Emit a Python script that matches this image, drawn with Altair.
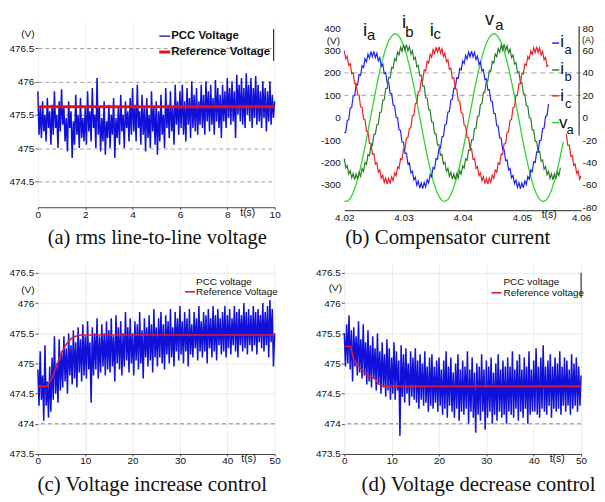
import altair as alt
import pandas as pd

SANS = "Liberation Sans"
TICKF = "Liberation Sans Narrow, Liberation Sans, sans-serif"
SERIF = "Liberation Serif"
NOISE_BLUE = "#1010d8"

# ---------------- panel (a): rms line-to-line voltage ----------------
a_pcc = [
    475.85, 475.2, 475.6, 475.15, 475.7, 475.25, 475.5, 475.1, 475.75, 475.3, 475.55, 475.05, 475.65, 475.2, 475.85, 475.3, 475.5, 475.0, 475.7, 475.25,
    475.88, 475.35, 475.6, 475.1, 475.45, 474.95, 475.7, 475.3, 475.55, 474.85, 475.4, 475.05, 475.8, 475.2, 475.5, 475.0, 475.75, 475.15, 475.45, 475.1,
    475.6, 475.05, 475.85, 475.25, 475.55, 475.1, 475.9, 475.3, 475.5, 475.0, 476.05, 475.2, 475.6, 474.95, 475.45, 475.1, 475.7, 474.9, 475.4, 475.15,
    475.65, 475.0, 475.5, 475.2, 475.75, 474.85, 475.45, 475.15, 475.6, 475.05, 475.8, 475.25, 475.5, 475.0, 475.7, 475.3, 475.55, 475.1, 475.75, 475.2,
    475.9, 475.25, 475.65, 475.1, 475.95, 475.3, 475.55, 475.05, 475.8, 475.2, 475.6, 474.95, 475.75, 475.15, 475.5, 475.0, 475.85, 475.25, 475.6, 475.05,
    475.7, 474.9, 475.55, 475.1, 475.8, 475.2, 475.5, 475.0, 475.9, 475.3, 475.65, 475.15, 475.85, 475.25, 475.6, 475.05, 475.95, 475.35, 475.7, 475.2,
    475.85, 475.3, 475.95, 475.2, 475.7, 475.1, 475.9, 475.35, 475.75, 475.15, 476.0, 475.3, 475.8, 475.25, 475.9, 475.2, 475.7, 475.35, 475.95, 475.3,
    475.8, 475.2, 476.0, 475.4, 475.85, 475.25, 475.95, 475.35, 475.75, 475.2, 476.02, 475.4, 475.9, 475.3, 475.8, 475.15, 475.95, 475.4, 475.85, 475.3,
    476.05, 475.45, 475.9, 475.35, 476.0, 475.4, 475.85, 475.15, 476.1, 475.5, 475.95, 475.4, 476.05, 475.35, 475.9, 475.3, 476.12, 475.5, 475.95, 475.4,
    476.05, 475.3, 475.9, 475.45, 476.08, 475.35, 475.95, 475.4, 475.85, 475.3, 476.0, 475.45, 475.9, 475.25, 475.85, 475.4, 476.0, 475.35, 475.8, 475.45,
    475.7,
]
a_step = 0.05
a_ref_t = [0, 10]
a_ref_v = [475.62, 475.62]
a_x_ticks = [0, 2, 4, 6, 8, 10]
a_y_ticks = [474.5, 475, 475.5, 476, 476.5]

# ---------------- panel (b): compensator current ----------------
b_step = 0.00025
b_ia = [
    -13.5, -13.0, -2.5, -1.9, 8.6, 9.1, 19.4, 19.6, 29.6, 29.3, 38.7, 37.7, 46.4, 44.7, 52.6, 49.9, 56.8, 53.2, 59.1, 54.5,
    59.3, 53.7, 57.5, 50.8, 53.6, 45.9, 47.8, 39.3, 40.3, 31.1, 31.5, 21.6, 21.5, 11.3, 10.8, 0.3, -0.2, -10.8, -11.3, -21.7,
    -21.9, -31.9, -31.7, -41.3, -40.4, -49.3, -47.7, -55.7, -53.2, -60.3, -56.8, -62.9, -58.4, -63.4, -57.9, -61.9, -55.4, -58.4, -50.8, -52.9,
    -44.5, -45.7, -36.5, -37.0, -27.3, -27.3, -17.0, -16.7, -6.2, -5.6, 4.9, 5.5, 15.9, 16.2, 26.3, 26.2, 35.8, 35.1, 44.0, 42.6,
    50.7, 48.4, 55.6, 52.4, 58.6, 54.3, 59.5, 54.2, 58.3, 52.0, 55.1, 47.7, 49.9, 41.7, 43.0, 34.0, 34.6, 24.9, 25.0, 14.8,
    14.5, 4.0, 3.5, -7.1, -7.6, -18.1, -18.4, -28.6, -28.6, -38.3, -37.7, -46.7, -45.4, -53.7, -51.6, -58.9, -55.8, -62.2, -58.1, -63.5,
    -58.3, -62.7, -56.5, -59.8, -52.6, -54.9, -46.8, -48.3, -39.3, -40.1, -30.5, -30.6, -20.5, -20.3, -9.8, -9.3, 1.2, 1.8, 12.3,
]
b_ib = [
    -36.5, -44.9, -42.8, -50.3, -47.3, -53.9, -49.9, -55.4, -50.4, -55.0, -48.9, -52.4, -45.4, -48.0, -40.1, -41.7, -33.0, -33.9, -24.5, -24.8,
    -14.9, -14.7, -6.2, -5.9, 4.6, 5.1, 15.5, 15.9, 26.1, 26.2, 36.1, 35.7, 45.0, 44.0, 52.7, 50.9, 58.7, 56.0, 62.9, 59.3,
    65.1, 60.5, 65.3, 59.7, 63.5, 56.8, 59.7, 52.1, 54.0, 45.5, 46.7, 37.5, 38.0, 28.2, 28.2, 18.0, 17.7, 7.2, 6.8, -3.7,
    -4.1, -14.4, -14.5, -24.5, -24.2, -33.6, -32.7, -41.5, -39.9, -47.8, -45.3, -52.3, -48.9, -54.9, -50.4, -55.4, -50.0, -53.9, -47.4, -50.4,
    -43.0, -45.1, -36.7, -38.0, -28.9, -29.5, -19.8, -19.9, -9.7, -9.4, 1.0, 1.4, 11.9, 12.3, 22.6, 22.8, 32.9, 32.7, 42.2, 41.4,
    50.3, 48.8, 56.9, 54.5, 61.7, 58.4, 64.6, 60.3, 65.5, 60.2, 64.3, 58.0, 61.2, 53.8, 56.1, 47.9, 49.3, 40.3, 41.0, 31.4,
    31.5, 21.5, 21.2, 10.9, 10.4, -0.1, -0.5, -10.9, -11.1, -21.2, -21.1, -30.7, -30.0, -39.0, -37.7, -45.9, -43.7, -51.0, -47.9, -54.3,
    -50.1, -55.5, -50.3, -54.7, -48.5, -51.8, -44.7,
]
b_ic_1 = [
    59.8, 52.6, 54.9, 46.8, 48.3, 39.3, 40.1, 30.5, 30.6, 20.5, 20.3, 9.8, 9.3, -1.2, -1.8, -12.3, -12.7, -22.9, -22.9, -32.7,
    -32.3, -41.4, -40.3, -48.7, -46.7, -54.2, -51.3, -57.8, -53.9, -59.4, -54.4, -58.9, -52.9, -56.4, -49.4, -51.8, -43.9, -45.5, -36.7, -37.5,
    -28.0, -28.3, -18.3, -18.0, -9.5, -9.0, 1.5, 2.1, 12.6, 13.1, 23.4, 23.6, 33.6, 33.3, 42.7, 41.7, 50.4, 48.7, 56.6, 53.9,
    60.8, 57.2, 63.1, 58.5, 63.3, 57.7, 61.5, 54.8, 57.6, 49.9, 51.8, 43.3, 44.3, 35.1, 35.5, 25.6, 25.5, 15.3, 14.8, 4.3,
    3.8, -6.8, -7.3, -17.7, -17.9, -27.9, -27.7, -37.3, -36.4, -45.3, -43.7, -51.7, -49.2, -56.3, -52.8, -58.9, -54.4, -59.4, -53.9, -57.9,
    -51.4, -54.4, -46.8, -48.9, -40.5, -41.7, -32.5, -33.0, -23.3, -23.3, -13.0, -12.7, -2.2, -1.6, 8.9, 9.5, 19.9, 20.2, 30.3, 30.2,
    39.8, 39.1, 48.0, 46.6, 54.7, 52.4, 59.6, 56.4, 62.6, 58.3, 63.5, 58.2, 62.3, 56.0, 59.1, 51.7, 53.9, 45.7, 47.0,
]
b_ic_2_start = 150
b_ic_2 = [-14.4, -24.6, -24.6, -34.3, -33.7, -42.7, -41.4, -49.7, -47.6, -54.9, -51.8]
b_va_step = 0.0005
b_va = [
    -373, -374, -361, -335, -298, -250, -193, -129, -61, 9, 80, 147, 209, 264, 309, 343, 365, 375, 371, 354,
    324, 283, 232, 172, 107, 38, -33, -102, -168, -228, -280, -322, -352, -370, -375, -366, -345, -311, -267, -213,
    -151, -84, -14, 56, 125, 189, 246, 295, 333, 359, 373, 374, 361, 335, 298, 250, 193, 129, 61, -9,
    -80, -147, -209, -264, -309, -343, -365, -375, -371, -354, -324, -283, -232, -172, -107,
]
b_x_ticks = [4.02, 4.03, 4.04, 4.05, 4.06]
b_yl_ticks = [-300, -200, -100, 0, 100, 200, 300, 400]
b_yr_ticks = [-80, -60, -40, -20, 0, 20, 40, 60, 80]
b_dash_v = [100, 200]

# ---------------- panel (c): voltage increase control ----------------
c_pcc = [
    474.9, 474.3, 475.2, 474.4, 474.8, 474.05, 475.3, 474.3, 474.7, 474.1, 474.95, 474.2, 475.1, 474.4, 475.45, 474.5, 475.0, 474.35, 475.4, 474.55,
    475.2, 474.6, 475.45, 474.7, 475.25, 474.5, 475.5, 474.8, 475.3, 474.65, 475.55, 474.75, 475.35, 474.6, 475.6, 474.85, 475.4, 474.7, 475.65, 474.8,
    475.45, 474.75, 475.7, 474.9, 475.35, 474.35, 475.6, 474.8, 475.5, 474.9, 475.75, 474.75, 475.45, 474.85, 475.65, 474.95, 475.5, 474.8, 475.7, 474.9,
    475.55, 474.85, 475.75, 474.95, 475.45, 474.7, 475.8, 475.0, 475.6, 474.9, 475.7, 474.8, 475.5, 474.95, 475.85, 475.05, 475.6, 474.85, 475.75, 475.0,
    475.5, 474.8, 475.7, 475.05, 475.65, 474.9, 475.85, 475.0, 475.55, 474.75, 475.75, 475.1, 475.6, 474.95, 475.8, 475.05, 475.65, 474.85, 475.9, 475.1,
    475.6, 474.95, 475.75, 475.1, 475.85, 475.0, 475.65, 474.9, 475.8, 475.15, 475.7, 475.0, 475.9, 475.1, 475.6, 474.95, 475.85, 475.2, 475.75, 475.05,
    475.95, 475.15, 475.7, 475.0, 475.85, 475.2, 475.75, 474.95, 475.9, 475.15, 475.65, 475.1, 475.85, 475.25, 475.75, 475.05, 475.95, 475.2, 475.7, 475.1,
    475.85, 475.2, 475.8, 475.0, 475.9, 475.25, 475.75, 475.1, 475.95, 475.2, 475.8, 475.05, 475.9, 475.3, 475.75, 475.15, 475.85, 475.2, 475.95, 475.1,
    475.8, 475.25, 475.9, 475.15, 475.75, 475.3, 475.95, 475.2, 475.85, 475.1, 475.9, 475.3, 475.8, 475.2, 476.0, 475.25, 475.85, 475.15, 475.9, 475.3,
    475.8, 475.2, 475.95, 475.3, 475.85, 475.15, 475.9, 475.35, 475.8, 475.25, 476.0, 475.2, 475.85, 475.3, 475.95, 475.1, 476.05, 475.35, 475.9, 474.95,
    475.5,
]
c_step = 0.25
c_ref_t = [0, 1.9, 3, 4, 5, 6, 7, 8, 9, 50]
c_ref_v = [474.62, 474.62, 474.76, 474.97, 475.17, 475.32, 475.41, 475.45, 475.47, 475.47]

# ---------------- panel (d): voltage decrease control ----------------
d_pcc = [
    475.5, 474.95, 475.65, 475.0, 475.8, 474.9, 475.55, 474.7, 475.6, 474.95, 475.45, 474.8, 475.7, 474.85, 475.4, 474.75, 475.65, 474.8, 475.35, 474.65,
    475.55, 474.7, 475.3, 474.6, 475.45, 474.75, 475.25, 474.55, 475.5, 474.65, 475.2, 474.5, 475.35, 474.6, 475.15, 474.45, 475.4, 474.55, 475.25, 474.4,
    475.1, 474.5, 475.35, 474.4, 475.2, 474.55, 475.05, 473.8, 475.3, 474.45, 475.15, 474.35, 475.25, 474.5, 475.0, 474.3, 475.2, 474.45, 475.1, 474.4,
    475.25, 474.35, 475.05, 474.25, 475.15, 474.4, 475.0, 474.3, 475.2, 474.35, 474.95, 474.2, 475.1, 474.3, 475.15, 474.25, 474.95, 474.35, 475.05, 474.2,
    475.1, 474.3, 474.9, 474.15, 475.05, 474.25, 475.2, 474.1, 474.95, 474.3, 475.1, 474.2, 474.85, 474.1, 475.0, 474.25, 475.15, 474.05, 474.9, 474.2,
    475.05, 474.15, 474.95, 474.25, 475.2, 474.0, 474.9, 474.2, 475.1, 474.1, 474.85, 473.85, 475.0, 474.15, 474.95, 474.05, 475.15, 474.2, 474.9, 473.9,
    475.05, 474.1, 474.95, 474.2, 475.1, 474.0, 474.85, 474.15, 475.0, 474.05, 475.15, 474.2, 474.9, 474.1, 475.05, 474.15, 474.95, 474.0, 475.1, 474.2,
    474.95, 474.15, 475.2, 474.1, 474.9, 474.25, 475.05, 474.05, 475.15, 474.2, 474.9, 474.1, 475.1, 474.25, 474.95, 474.0, 475.2, 474.15, 474.9, 474.2,
    475.05, 474.2, 475.25, 474.15, 474.95, 474.1, 475.1, 474.25, 475.3, 474.2, 474.95, 474.15, 475.05, 474.3, 475.15, 474.1, 474.95, 474.25, 475.1, 474.2,
    475.0, 474.25, 475.2, 474.15, 474.95, 474.3, 475.1, 474.2, 475.05, 474.3, 474.9, 474.15, 475.15, 474.25, 475.0, 474.3, 475.1, 474.2, 474.95, 474.3,
    474.8,
]
d_step = 0.25
d_ref_t = [0, 1.4, 1.9, 3, 4.5, 5, 6.5, 7.2, 8.5, 50]
d_ref_v = [475.28, 475.28, 475.08, 474.95, 474.84, 474.8, 474.74, 474.66, 474.62, 474.62]

cd_x_ticks = [0, 10, 20, 30, 40, 50]
cd_y_ticks = [473.5, 474, 474.5, 475, 475.5, 476, 476.5]
cd_dash_v = [474]

# ---------------- helpers ----------------
one = pd.DataFrame({"k": [0]})
PLAIN = "'' + datum.value"


def txt(x, y, s, size, font=SANS, weight="normal", align="left", baseline="middle", color="#111"):
    return alt.Chart(one).mark_text(
        text=s, fontSize=size, font=font, fontWeight=weight, align=align, baseline=baseline, color=color
    ).encode(x=alt.value(x), y=alt.value(y))


def seg(x1, x2, y1, y2, color, w, opacity=1):
    return alt.Chart(one).mark_rule(color=color, strokeWidth=w, opacity=opacity).encode(
        x=alt.value(x1), x2=alt.value(x2), y=alt.value(y1), y2=alt.value(y2)
    )


def xaxis(values, grid_color):
    return alt.Axis(values=values, labelExpr=PLAIN, title=None, grid=True, gridColor=grid_color, gridWidth=0.8,
                    domainColor="#444", tickColor="#444", tickSize=2, labelFont=TICKF, labelFontSize=10,
                    labelColor="#111", labelPadding=0, labelOverlap=False, labelFlush=False)


def yaxis(values, grid_color, dash):
    kw = dict(values=values, labelExpr=PLAIN, title=None, grid=True, domain=False, tickColor="#555", tickSize=3,
              labelFont=TICKF, labelFontSize=10, labelColor="#111", labelPadding=1, labelOverlap=False,
              labelFlush=False, labelBound=False, gridColor=grid_color, gridWidth=0.8)
    if dash:
        kw.update(gridDash=dash)
    return alt.Axis(**kw)


# invisible anchors fixing the top-left extent of the layout
anchor_left = seg(-29, -29, 100, 100, "white", 0, opacity=0)
anchor_top = seg(100, 100, -12, -12, "white", 0, opacity=0)

# ---------------- panel (a) ----------------
df_a = pd.DataFrame({"t": [i * a_step for i in range(len(a_pcc))], "v": a_pcc})
df_a_ref = pd.DataFrame({"t": a_ref_t, "v": a_ref_v})
xa = alt.X("t:Q", scale=alt.Scale(domain=[0, 10], nice=False, zero=False), axis=xaxis(a_x_ticks, "#ececec"))
ya = alt.Y("v:Q", scale=alt.Scale(domain=[474.112, 476.903], nice=False, zero=False),
           axis=yaxis(a_y_ticks, "#8a8a8a", [4, 3]))
A = alt.layer(
    alt.Chart(df_a).mark_line(color=NOISE_BLUE, strokeWidth=1.5).encode(x=xa, y=ya),
    alt.Chart(df_a_ref).mark_line(color="#e3101a", strokeWidth=3).encode(x=xa, y=ya),
    seg(122, 133, 15, 15, "#3030c0", 1.5),
    txt(134, 15, "PCC Voltage", 11.5, weight="bold"),
    seg(122, 133, 31, 31, "#e3101a", 3),
    txt(134, 31, "Reference Voltage", 11.5, weight="bold"),
    seg(237, 237, 8, 40, "#111", 1),
    txt(-10, 13, "(V)", 10, align="center"),
    txt(211, 193, "t(s)", 10.5, align="center"),
    txt(120, 218, "(a) rms line-to-line voltage", 20.5, font=SERIF, align="center"),
    anchor_left,
    anchor_top,
).properties(width=238, height=187)

# ---------------- panel (b) ----------------
rows = []
for s, start, vals, g in [("ia", 0, b_ia, "ia"), ("ib", 0, b_ib, "ib"), ("ic", 0, b_ic_1, "ic1"),
                          ("ic", b_ic_2_start, b_ic_2, "ic2")]:
    for i, v in enumerate(vals):
        rows.append({"t": 4.02 + (start + i) * b_step, "i": v, "s": s, "g": g})
df_cur = pd.DataFrame(rows)
df_va = pd.DataFrame({"t": [4.02 + i * b_va_step for i in range(len(b_va))], "v": b_va})
df_dash = pd.DataFrame({"v": b_dash_v})

xb = alt.X("t:Q", scale=alt.Scale(domain=[4.02, 4.06], nice=False, zero=False),
           axis=alt.Axis(values=b_x_ticks, format=".2f", title=None, grid=False, domainColor="#222",
                         ticks=False, labelFont=TICKF, labelFontSize=10, labelColor="#111", labelPadding=2,
                         labelOverlap=False, labelFlush=False))
ybl = alt.Y("v:Q", scale=alt.Scale(domain=[-413.3, 431.1], nice=False, zero=False),
            axis=alt.Axis(values=b_yl_ticks, labelExpr=PLAIN, title=None, grid=False, domain=False, ticks=False,
                          labelFont=TICKF, labelFontSize=10, labelColor="#111", labelPadding=4,
                          labelOverlap=False, labelFlush=False, labelBound=False))
ybr = alt.Y("i:Q", scale=alt.Scale(domain=[-82.67, 86.22], nice=False, zero=False),
            axis=alt.Axis(values=b_yr_ticks, labelExpr=PLAIN, title=None, grid=False, domain=False, ticks=False,
                          orient="right", labelFont=TICKF, labelFontSize=10, labelColor="#111", labelPadding=1,
                          labelOverlap=False, labelFlush=False, labelBound=False))
b_left = alt.layer(
    alt.Chart(df_va).mark_line(color="#2fd62f", strokeWidth=1.3).encode(x=xb, y=ybl),
    alt.Chart(df_dash).mark_rule(color="#999", strokeDash=[5, 4], strokeWidth=0.9).encode(y=ybl),
)
b_right = alt.Chart(df_cur).mark_line(strokeWidth=1.2).encode(
    x=xb,
    y=ybr,
    color=alt.Color("s:N", scale=alt.Scale(domain=["ia", "ib", "ic"], range=["#2323ee", "#2b7d2b", "#e8242a"]),
                    legend=None),
    detail="g:N",
)
LB = 17
SB = 13
b_deco = [
    txt(21, 15, "i", 19, align="center", baseline="alphabetic"),
    txt(27, 19, "a", 15, align="center", baseline="alphabetic"),
    txt(60, 7, "i", 19, align="center", baseline="alphabetic"),
    txt(65.5, 16, "b", 15, align="center", baseline="alphabetic"),
    txt(88, 15, "i", 19, align="center", baseline="alphabetic"),
    txt(93.5, 18, "c", 15, align="center", baseline="alphabetic"),
    txt(146, 4, "v", 18, align="center", baseline="alphabetic"),
    txt(156, 9, "a", 15, align="center", baseline="alphabetic"),
    seg(209, 216, 22, 22, "#2323ee", 1.5),
    txt(219, 26, "i", LB, align="center", baseline="alphabetic"),
    txt(225, 33, "a", SB, align="center", baseline="alphabetic"),
    seg(209, 216, 49, 49, "#2b7d2b", 1.5),
    txt(219, 53, "i", LB, align="center", baseline="alphabetic"),
    txt(225, 60, "b", SB, align="center", baseline="alphabetic"),
    seg(209, 216, 75, 75, "#e8242a", 1.5),
    txt(219, 80, "i", LB, align="center", baseline="alphabetic"),
    txt(225, 87, "c", SB, align="center", baseline="alphabetic"),
    seg(209, 216, 102, 102, "#2fd62f", 1.5),
    txt(220, 107, "v", LB, align="center", baseline="alphabetic"),
    txt(227, 113, "a", SB, align="center", baseline="alphabetic"),
    seg(236, 236, 5, 115, "#111", 1),
    txt(-11, 20, "(V)", 10, align="center"),
    txt(245, 19, "(A)", 9, align="center"),
    txt(206, 195, "t(s)", 10.5, align="center"),
    txt(104, 218, "(b) Compensator current", 21, font=SERIF, align="center"),
]
B = alt.layer(b_left, b_right, *b_deco).resolve_scale(y="independent").properties(width=238, height=190)


# ---------------- panels (c), (d) ----------------
def noise_panel(vals, step, ref_t, ref_v, deco):
    df = pd.DataFrame({"t": [i * step for i in range(len(vals))], "v": vals})
    dfr = pd.DataFrame({"t": ref_t, "v": ref_v})
    dfd = pd.DataFrame({"v": cd_dash_v})
    x = alt.X("t:Q", scale=alt.Scale(domain=[0, 50], nice=False, zero=False), axis=xaxis(cd_x_ticks, "#e6e6e6"))
    y = alt.Y("v:Q", scale=alt.Scale(domain=[473.5, 476.632], nice=False, zero=False),
              axis=yaxis(cd_y_ticks, "#e6e6e6", None))
    return alt.layer(
        alt.Chart(df).mark_line(color=NOISE_BLUE, strokeWidth=1.5).encode(x=x, y=y),
        alt.Chart(dfd).mark_rule(color="#777", strokeDash=[4, 3], strokeWidth=0.9).encode(y=y),
        alt.Chart(dfr).mark_line(color="#d81e3c", strokeWidth=1.6).encode(x=x, y=y),
        *deco,
    ).properties(width=238, height=190)


C = noise_panel(c_pcc, c_step, c_ref_t, c_ref_v, [
    txt(159, 17, "PCC voltage", 10),
    seg(148, 158, 27, 27, "#d81e3c", 1.6),
    txt(159, 27, "Reference Voltage", 10),
    txt(-10, 25, "(V)", 10, align="center"),
    txt(212, 195, "t(s)", 10.5, align="center"),
    txt(115, 221, "(c) Voltage increase control", 21, font=SERIF, align="center"),
])
D = noise_panel(d_pcc, d_step, d_ref_t, d_ref_v, [
    txt(160, 17, "PCC voltage", 10),
    seg(148, 158, 28, 28, "#d81e3c", 1.6),
    txt(160, 28, "Reference voltage", 10),
    seg(238, 238, 8, 33, "#111", 1),
    txt(-9, 23, "(V)", 10, align="center"),
    txt(214, 195, "t(s)", 10.5, align="center"),
    txt(135, 221, "(d) Voltage decrease control", 21, font=SERIF, align="center"),
])

chart = alt.concat(
    A, B, C, D, columns=2, bounds="flush", spacing=alt.RowColnumber(row=55, column=70)
).properties(
    padding={"left": 0, "top": 0, "right": 0, "bottom": 0}, background="white"
).configure_view(stroke=None)

chart.save("out.html", embed_options={"renderer": "svg", "actions": False})
